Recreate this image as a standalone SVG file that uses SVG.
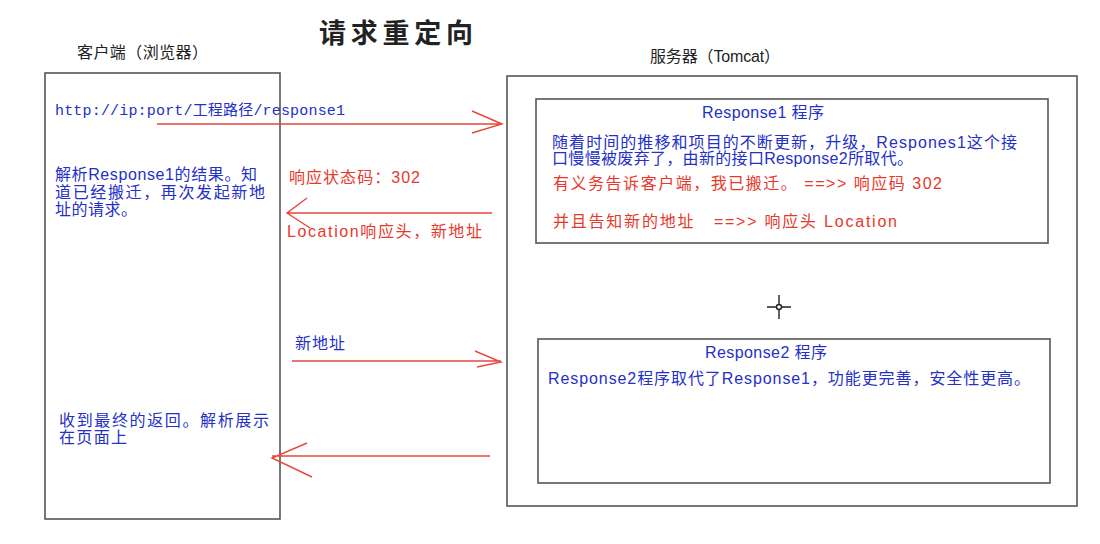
<svg xmlns="http://www.w3.org/2000/svg" width="1100" height="544" viewBox="0 0 1100 544">
<style>
.box{fill:none;stroke:#555;stroke-width:1.6}
.t{font-family:"Liberation Sans","Noto Sans CJK SC",sans-serif;font-size:16px}
.blue{fill:#2430c8}
.red{fill:#e8382c}
.dark{fill:#222}
.mono{font-family:"Liberation Mono","Noto Sans CJK SC",monospace;font-size:15px}
.arr{fill:none;stroke:#e8473c;stroke-width:1.4}
</style>
<rect width="1100" height="544" fill="#fff"/>
<text class="t dark" x="396" y="43" text-anchor="middle" style="font-size:27px;font-weight:bold" textLength="154" lengthAdjust="spacing">请求重定向</text>

<g id="client">
<rect class="box" x="45" y="73" width="235" height="446"/>
<text class="t dark" x="77" y="58" textLength="131" lengthAdjust="spacing">客户端（浏览器）</text>
<text class="t blue mono" x="55" y="115" textLength="290" lengthAdjust="spacing">http://ip:port/工程路径/response1</text>
<text class="t blue" x="55" y="180" textLength="202" lengthAdjust="spacing">解析Response1的结果。知</text>
<text class="t blue" x="55" y="198" textLength="210" lengthAdjust="spacing">道已经搬迁，再次发起新地</text>
<text class="t blue" x="55" y="215" textLength="82" lengthAdjust="spacing">址的请求。</text>
<text class="t blue" x="59" y="426" textLength="210" lengthAdjust="spacing">收到最终的返回。解析展示</text>
<text class="t blue" x="59" y="443" textLength="68" lengthAdjust="spacing">在页面上</text>
</g>

<g id="server">
<rect class="box" x="507" y="76" width="570" height="430"/>
<text class="t dark" x="650" y="62" textLength="130" lengthAdjust="spacing">服务器（Tomcat）</text>
</g>

<g id="response1">
<rect class="box" x="536" y="99" width="512" height="144"/>
<text class="t blue" x="702" y="118" textLength="122" lengthAdjust="spacing">Response1 程序</text>
<text class="t blue" x="552" y="148" textLength="465" lengthAdjust="spacing">随着时间的推移和项目的不断更新，升级，Respones1这个接</text>
<text class="t blue" x="552" y="164" textLength="361" lengthAdjust="spacing">口慢慢被废弃了，由新的接口Response2所取代。</text>
<text class="t red" x="553" y="189" textLength="389" lengthAdjust="spacing">有义务告诉客户端，我已搬迁。 ==&gt;&gt; 响应码 302</text>
<text class="t red" x="553" y="227" textLength="344" lengthAdjust="spacing" xml:space="preserve">并且告知新的地址   ==&gt;&gt; 响应头 Location</text>
</g>

<g id="response2">
<rect class="box" x="538" y="339" width="512" height="144"/>
<text class="t blue" x="705" y="358" textLength="122" lengthAdjust="spacing">Response2 程序</text>
<text class="t blue" x="548" y="384" textLength="482" lengthAdjust="spacing">Response2程序取代了Response1，功能更完善，安全性更高。</text>
</g>

<g id="connectors">
<path class="arr" d="M157 124 H502 M472 111 L502 124 L472 133"/>
<path class="arr" d="M492 213 H287 M307 198 L287 213 L310 228"/>
<path class="arr" d="M292 361 H501 M475 351 L501 362 L477 367"/>
<path class="arr" d="M490 456 H272 M307 443 L272 458 L312 477"/>
<text class="t red" x="289" y="183" textLength="131" lengthAdjust="spacing">响应状态码：302</text>
<text class="t red" x="287" y="237" textLength="195" lengthAdjust="spacing">Location响应头，新地址</text>
<text class="t blue" x="295" y="349" textLength="50" lengthAdjust="spacing">新地址</text>
</g>

<g id="cursor" stroke="#222" stroke-width="1.4" fill="none">
<path d="M767 307 H791 M779 295 V319"/>
<circle cx="779" cy="307" r="2.5" fill="#fff"/>
</g>
</svg>
